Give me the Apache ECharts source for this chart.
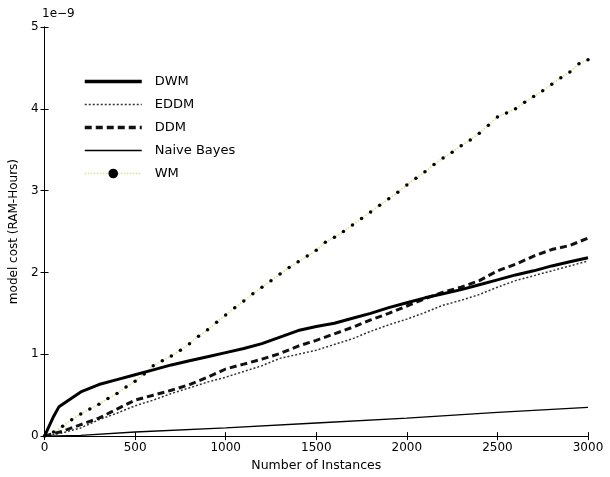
<!DOCTYPE html>
<html><head><meta charset="utf-8">
<script src="https://cdn.jsdelivr.net/npm/echarts@6/dist/echarts.min.js"></script>
<style>html,body{margin:0;padding:0;background:#fff}#c{width:610px;height:477px}</style>
</head><body><div id="c"></div>
<script>
// x positions (number of instances)
const xs100 = [0,100,200,300,400,500,600,700,800,900,1000,1100,1200,1300,1400,1500,1600,1700,1800,1900,2000,2100,2200,2300,2400,2500,2600,2700,2800,2900,3000];
const xsDWM = [0,50,80,100,200,300,400,500,600,700,800,900,1000,1100,1200,1300,1400,1500,1600,1700,1800,1900,2000,2100,2200,2300,2400,2500,2600,2700,2800,2900,3000];
const dwm = [0,0.24,0.36,0.39,0.54,0.63,0.69,0.75,0.81,0.87,0.92,0.97,1.02,1.07,1.13,1.21,1.29,1.34,1.38,1.44,1.5,1.57,1.63,1.69,1.74,1.79,1.85,1.91,1.97,2.02,2.08,2.13,2.18];
const eddm = [0,0.04,0.1,0.2,0.28,0.37,0.44,0.52,0.59,0.66,0.72,0.79,0.86,0.95,1.0,1.05,1.12,1.19,1.28,1.36,1.43,1.51,1.6,1.66,1.73,1.82,1.9,1.96,2.02,2.08,2.14];
const ddm = [0,0.06,0.14,0.22,0.33,0.44,0.5,0.56,0.63,0.72,0.82,0.88,0.94,1.01,1.1,1.17,1.25,1.33,1.42,1.5,1.59,1.68,1.76,1.82,1.9,2.02,2.1,2.2,2.28,2.33,2.42];
const xsNB = [0,200,500,1000,1500,2000,2500,3000];
const nb = [0,0.01,0.05,0.1,0.16,0.22,0.29,0.35];
const xsWM = [0,50,100,150,200,250,300,350,400,450,500,550,600,650,700,750,800,850,900,950,1000,1050,1100,1150,1200,1250,1300,1350,1400,1450,1500,1550,1600,1650,1700,1750,1800,1850,1900,1950,2000,2050,2100,2150,2200,2250,2300,2350,2400,2450,2500,2550,2600,2650,2700,2750,2800,2850,2900,2950,3000];
const wm = [0,0.05,0.12,0.2,0.27,0.33,0.39,0.46,0.52,0.6,0.67,0.76,0.86,0.92,0.98,1.05,1.13,1.22,1.3,1.39,1.48,1.57,1.65,1.74,1.82,1.9,1.98,2.06,2.13,2.2,2.27,2.37,2.43,2.5,2.58,2.66,2.74,2.82,2.9,2.98,3.07,3.15,3.23,3.32,3.4,3.47,3.55,3.62,3.7,3.8,3.9,3.95,4.0,4.08,4.15,4.22,4.3,4.38,4.45,4.55,4.6];
const xTicks = [0,500,1000,1500,2000,2500,3000];
const yTicks = [0,1,2,3,4,5];

const pair = (xs, ys) => xs.map((x,i)=>[x, ys[i]]);
const F = 'DejaVu Sans';
const chart = echarts.init(document.getElementById('c'), null, {renderer:'canvas'});
const axLine = {show:true, lineStyle:{color:'#000', width:1}};
const tick = {show:true, inside:true, length:4, lineStyle:{color:'#000'}};
const hide = {opacity:0};
chart.setOption({
  animation:false,
  backgroundColor:'#fff',
  grid:{left:38, right:22, top:27, bottom:37},
  xAxis:[{type:'value', min:xTicks[0], max:xTicks[xTicks.length-1], interval:500, position:'bottom',
    axisLine:axLine, axisTick:tick, splitLine:{show:false},
    axisLabel:{color:'#000', fontFamily:F, fontSize:12, margin:6, formatter:v=>String(v)},
    name:'Number of Instances', nameLocation:'middle', nameGap:20,
    nameTextStyle:{color:'#000', fontFamily:F, fontSize:12.5}},
   {type:'value', min:0, max:3000, interval:500, position:'top',
    axisLine:axLine, axisTick:tick, axisLabel:{show:false}, splitLine:{show:false}}],
  yAxis:[{type:'value', min:yTicks[0], max:yTicks[yTicks.length-1], interval:1, position:'left',
    axisLine:axLine, axisTick:tick, splitLine:{show:false},
    axisLabel:{color:'#000', fontFamily:F, fontSize:12, margin:6, formatter:v=>String(v)},
    name:'model cost (RAM-Hours)', nameLocation:'middle', nameGap:24,
    nameTextStyle:{color:'#000', fontFamily:F, fontSize:12}},
   {type:'value', min:0, max:5, interval:1, position:'right',
    axisLine:axLine, axisTick:tick, axisLabel:{show:false}, splitLine:{show:false}}],
  graphic:[{type:'text', left:42, top:8, style:{text:'1e\u22129', fontFamily:F, fontSize:12, fill:'#000'}}],
  legend:{orient:'vertical', left:78, top:70, itemWidth:57, itemHeight:12, itemGap:10,
    textStyle:{color:'#000', fontFamily:F, fontSize:13, padding:[0,0,0,8]},
    data:[
      {name:'DWM', itemStyle:hide, lineStyle:{width:3.5}},
      {name:'EDDM', itemStyle:hide, lineStyle:{width:1.5}},
      {name:'DDM', itemStyle:hide, lineStyle:{width:3.5}},
      {name:'Naive Bayes', itemStyle:hide, lineStyle:{width:1.3}},
      {name:'WM', lineStyle:{width:1.5}}
    ]},
  series:[
    {name:'WM', type:'line', data:pair(xsWM, wm), showSymbol:true, symbol:'circle', symbolSize:3.5,
     itemStyle:{color:'#000'}, lineStyle:{color:'#dede8a', width:1.5, type:'dotted'}, z:1},
    {name:'EDDM', type:'line', data:pair(xs100, eddm), symbol:'none',
     itemStyle:{color:'#333'}, lineStyle:{color:'#333', width:1.5, type:[2,2]}},
    {name:'DDM', type:'line', data:pair(xs100, ddm), symbol:'none',
     itemStyle:{color:'#111'}, lineStyle:{color:'#111', width:3, type:[7,4]}},
    {name:'Naive Bayes', type:'line', data:pair(xsNB, nb), symbol:'none',
     itemStyle:{color:'#000'}, lineStyle:{color:'#000', width:1.3}},
    {name:'DWM', type:'line', data:pair(xsDWM, dwm), symbol:'none',
     itemStyle:{color:'#000'}, lineStyle:{color:'#000', width:3}}
  ]
});
</script></body></html>
